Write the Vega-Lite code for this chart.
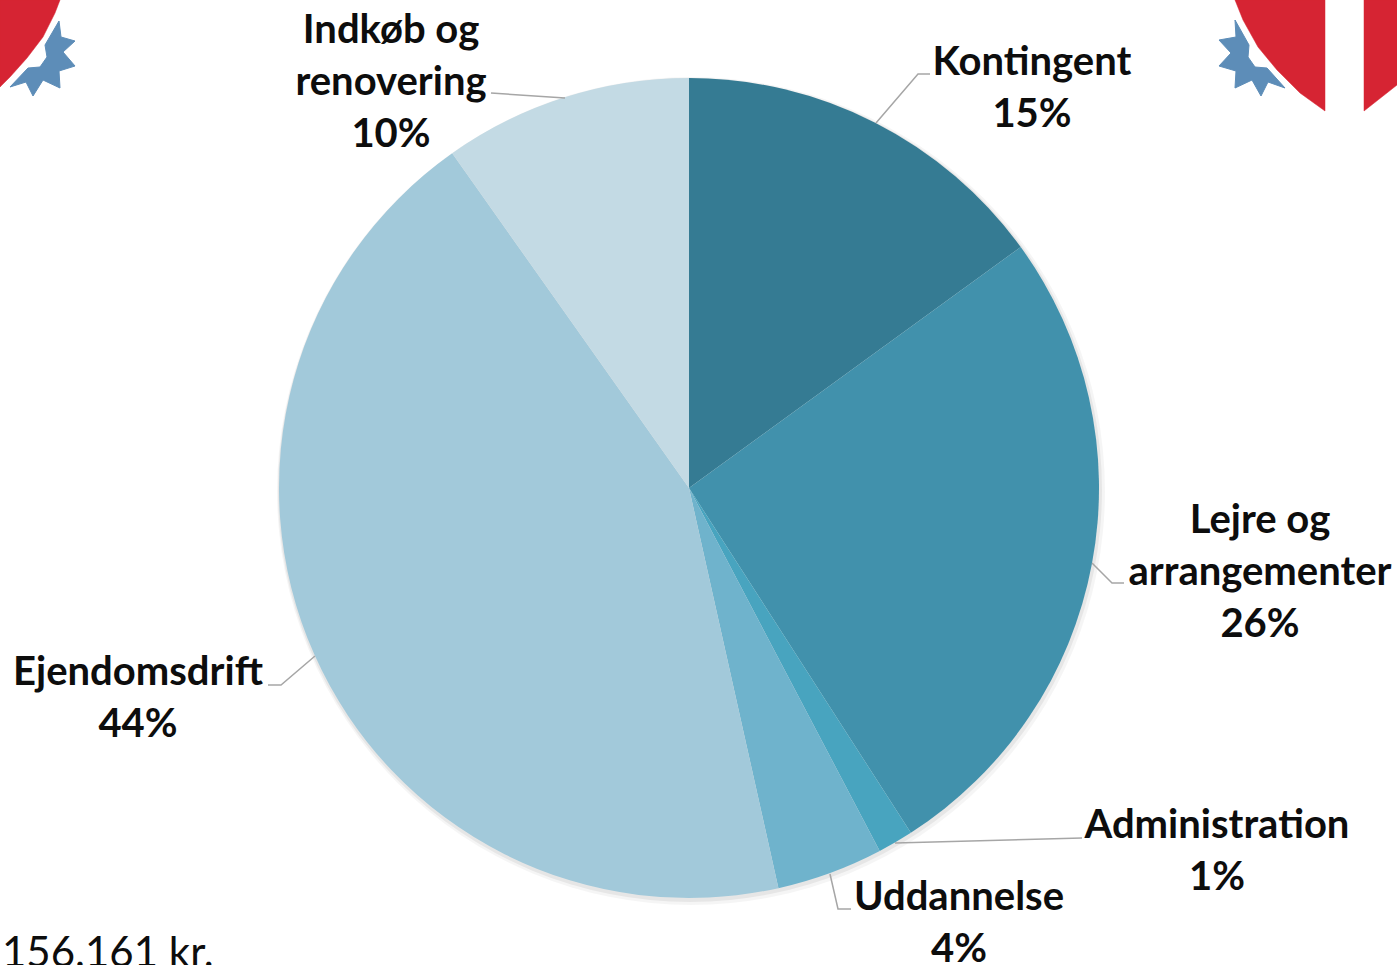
{
"$schema":"https://vega.github.io/schema/vega-lite/v6.json",
"width":1397,"height":965,"padding":0,"autosize":{"type":"none"},"background":"white",
"config":{"view":{"stroke":null}},
"datasets":{
"slices":[
{"name":"Kontingent","share":15.0,"rank":1},
{"name":"Lejre og arrangementer","share":25.9,"rank":2},
{"name":"Administration","share":1.4,"rank":3},
{"name":"Uddannelse","share":4.2,"rank":4},
{"name":"Ejendomsdrift","share":43.7,"rank":5},
{"name":"Indkøb og renovering","share":9.8,"rank":6}
],
"labels":[
{"text":"Kontingent\n15%","lx":1032,"ly":63},
{"text":"Lejre og\narrangementer\n26%","lx":1260,"ly":521},
{"text":"Administration\n1%","lx":1217,"ly":826},
{"text":"Uddannelse\n4%","lx":959,"ly":898},
{"text":"Ejendomsdrift\n44%","lx":138,"ly":673},
{"text":"Indkøb og\nrenovering\n10%","lx":391,"ly":31}
],
"leaders":[
{"k":"a","i":1,"lx":876,"ly":123},{"k":"a","i":2,"lx":918,"ly":74},{"k":"a","i":3,"lx":930,"ly":74},
{"k":"b","i":1,"lx":1092,"ly":563},{"k":"b","i":2,"lx":1112,"ly":583},{"k":"b","i":3,"lx":1124,"ly":583},
{"k":"c","i":1,"lx":895,"ly":843},{"k":"c","i":2,"lx":1082,"ly":838},
{"k":"d","i":1,"lx":830,"ly":874},{"k":"d","i":2,"lx":838,"ly":909},{"k":"d","i":3,"lx":851,"ly":909},
{"k":"e","i":1,"lx":315,"ly":656},{"k":"e","i":2,"lx":281,"ly":685},{"k":"e","i":3,"lx":268,"ly":685},
{"k":"f","i":1,"lx":565,"ly":98},{"k":"f","i":2,"lx":491,"ly":93}
],
"red":[
{"k":"l","i":1,"lx":0,"ly":0},{"k":"l","i":2,"lx":60,"ly":0},{"k":"l","i":3,"lx":55,"ly":13},{"k":"l","i":4,"lx":43,"ly":37},{"k":"l","i":5,"lx":27,"ly":58},{"k":"l","i":6,"lx":10,"ly":77},{"k":"l","i":7,"lx":0,"ly":87},{"k":"l","i":8,"lx":0,"ly":0},
{"k":"m","i":1,"lx":1235,"ly":0},{"k":"m","i":2,"lx":1243,"ly":20},{"k":"m","i":3,"lx":1258,"ly":47},{"k":"m","i":4,"lx":1277,"ly":70},{"k":"m","i":5,"lx":1300,"ly":93},{"k":"m","i":6,"lx":1325,"ly":111},{"k":"m","i":7,"lx":1325,"ly":0},{"k":"m","i":8,"lx":1235,"ly":0},
{"k":"r","i":1,"lx":1364,"ly":0},{"k":"r","i":2,"lx":1364,"ly":111},{"k":"r","i":3,"lx":1397,"ly":85},{"k":"r","i":4,"lx":1397,"ly":0},{"k":"r","i":5,"lx":1364,"ly":0}
],
"gear":[
{"k":"l","i":1,"lx":59,"ly":21},{"k":"l","i":2,"lx":61,"ly":37},{"k":"l","i":3,"lx":75,"ly":41},{"k":"l","i":4,"lx":63,"ly":52},{"k":"l","i":5,"lx":75,"ly":66},{"k":"l","i":6,"lx":59,"ly":71},{"k":"l","i":7,"lx":60,"ly":88},{"k":"l","i":8,"lx":43,"ly":80},{"k":"l","i":9,"lx":33,"ly":96},{"k":"l","i":10,"lx":26,"ly":82},{"k":"l","i":11,"lx":10,"ly":87},{"k":"l","i":12,"lx":28,"ly":68},{"k":"l","i":13,"lx":40,"ly":67},{"k":"l","i":14,"lx":47,"ly":57},{"k":"l","i":15,"lx":45,"ly":45},{"k":"l","i":16,"lx":59,"ly":21},
{"k":"r","i":1,"lx":1235,"ly":20},{"k":"r","i":2,"lx":1249,"ly":45},{"k":"r","i":3,"lx":1248,"ly":57},{"k":"r","i":4,"lx":1255,"ly":67},{"k":"r","i":5,"lx":1267,"ly":68},{"k":"r","i":6,"lx":1285,"ly":88},{"k":"r","i":7,"lx":1268,"ly":82},{"k":"r","i":8,"lx":1261,"ly":96},{"k":"r","i":9,"lx":1252,"ly":80},{"k":"r","i":10,"lx":1235,"ly":88},{"k":"r","i":11,"lx":1236,"ly":71},{"k":"r","i":12,"lx":1219,"ly":66},{"k":"r","i":13,"lx":1231,"ly":53},{"k":"r","i":14,"lx":1219,"ly":40},{"k":"r","i":15,"lx":1236,"ly":37},{"k":"r","i":16,"lx":1235,"ly":20}
],
"note":[{"text":"156.161 kr.","lx":2,"ly":967}]
},
"layer":[
{"data":{"name":"red"},"mark":{"type":"line","fill":"#D62433","stroke":"#D62433","strokeWidth":0.5},
 "encoding":{"x":{"field":"lx","type":"quantitative","scale":{"domain":[0,1397],"nice":false,"zero":false},"axis":null},
 "y":{"field":"ly","type":"quantitative","scale":{"domain":[965,0],"nice":false,"zero":false},"axis":null},
 "detail":{"field":"k"},"order":{"field":"i"}}},
{"data":{"name":"gear"},"mark":{"type":"line","fill":"#5D8DB8","stroke":"#5D8DB8","strokeWidth":1},
 "encoding":{"x":{"field":"lx","type":"quantitative"},"y":{"field":"ly","type":"quantitative"},"detail":{"field":"k"},"order":{"field":"i"}}},
{"data":{"values":[{"a":1}]},"mark":{"type":"arc","outerRadius":414,"fill":"#000000","opacity":0.04},
 "encoding":{"x":{"datum":691},"y":{"datum":491}}},
{"data":{"values":[{"a":1}]},"mark":{"type":"arc","outerRadius":412,"fill":"#000000","opacity":0.06},
 "encoding":{"x":{"datum":690},"y":{"datum":490}}},
{"data":{"name":"slices"},"mark":{"type":"arc","outerRadius":410},
 "encoding":{"theta":{"field":"share","type":"quantitative","stack":true},
 "order":{"field":"rank"},
 "color":{"field":"name","type":"nominal","legend":null,"scale":{"domain":["Kontingent","Lejre og arrangementer","Administration","Uddannelse","Ejendomsdrift","Indkøb og renovering"],"range":["#357B93","#4191AC","#48A4BF","#6FB3CC","#A2C9DA","#C3DAE4"]}},
 "x":{"datum":689},"y":{"datum":488}}},
{"data":{"name":"leaders"},"mark":{"type":"line","stroke":"#A6A6A6","strokeWidth":1.5},
 "encoding":{"x":{"field":"lx","type":"quantitative"},"y":{"field":"ly","type":"quantitative"},"detail":{"field":"k"},"order":{"field":"i"}}},
{"data":{"name":"labels"},"mark":{"type":"text","font":"Lato","fontWeight":"bold","fontSize":40,"lineHeight":52,"lineBreak":"\n","align":"center","baseline":"middle","color":"#0D0D0D"},
 "encoding":{"x":{"field":"lx","type":"quantitative"},"y":{"field":"ly","type":"quantitative"},"text":{"field":"text"}}},
{"data":{"name":"note"},"mark":{"type":"text","font":"Lato","fontSize":42,"align":"left","baseline":"alphabetic","color":"#0D0D0D"},
 "encoding":{"x":{"field":"lx","type":"quantitative"},"y":{"field":"ly","type":"quantitative"},"text":{"field":"text"}}}
]
}
